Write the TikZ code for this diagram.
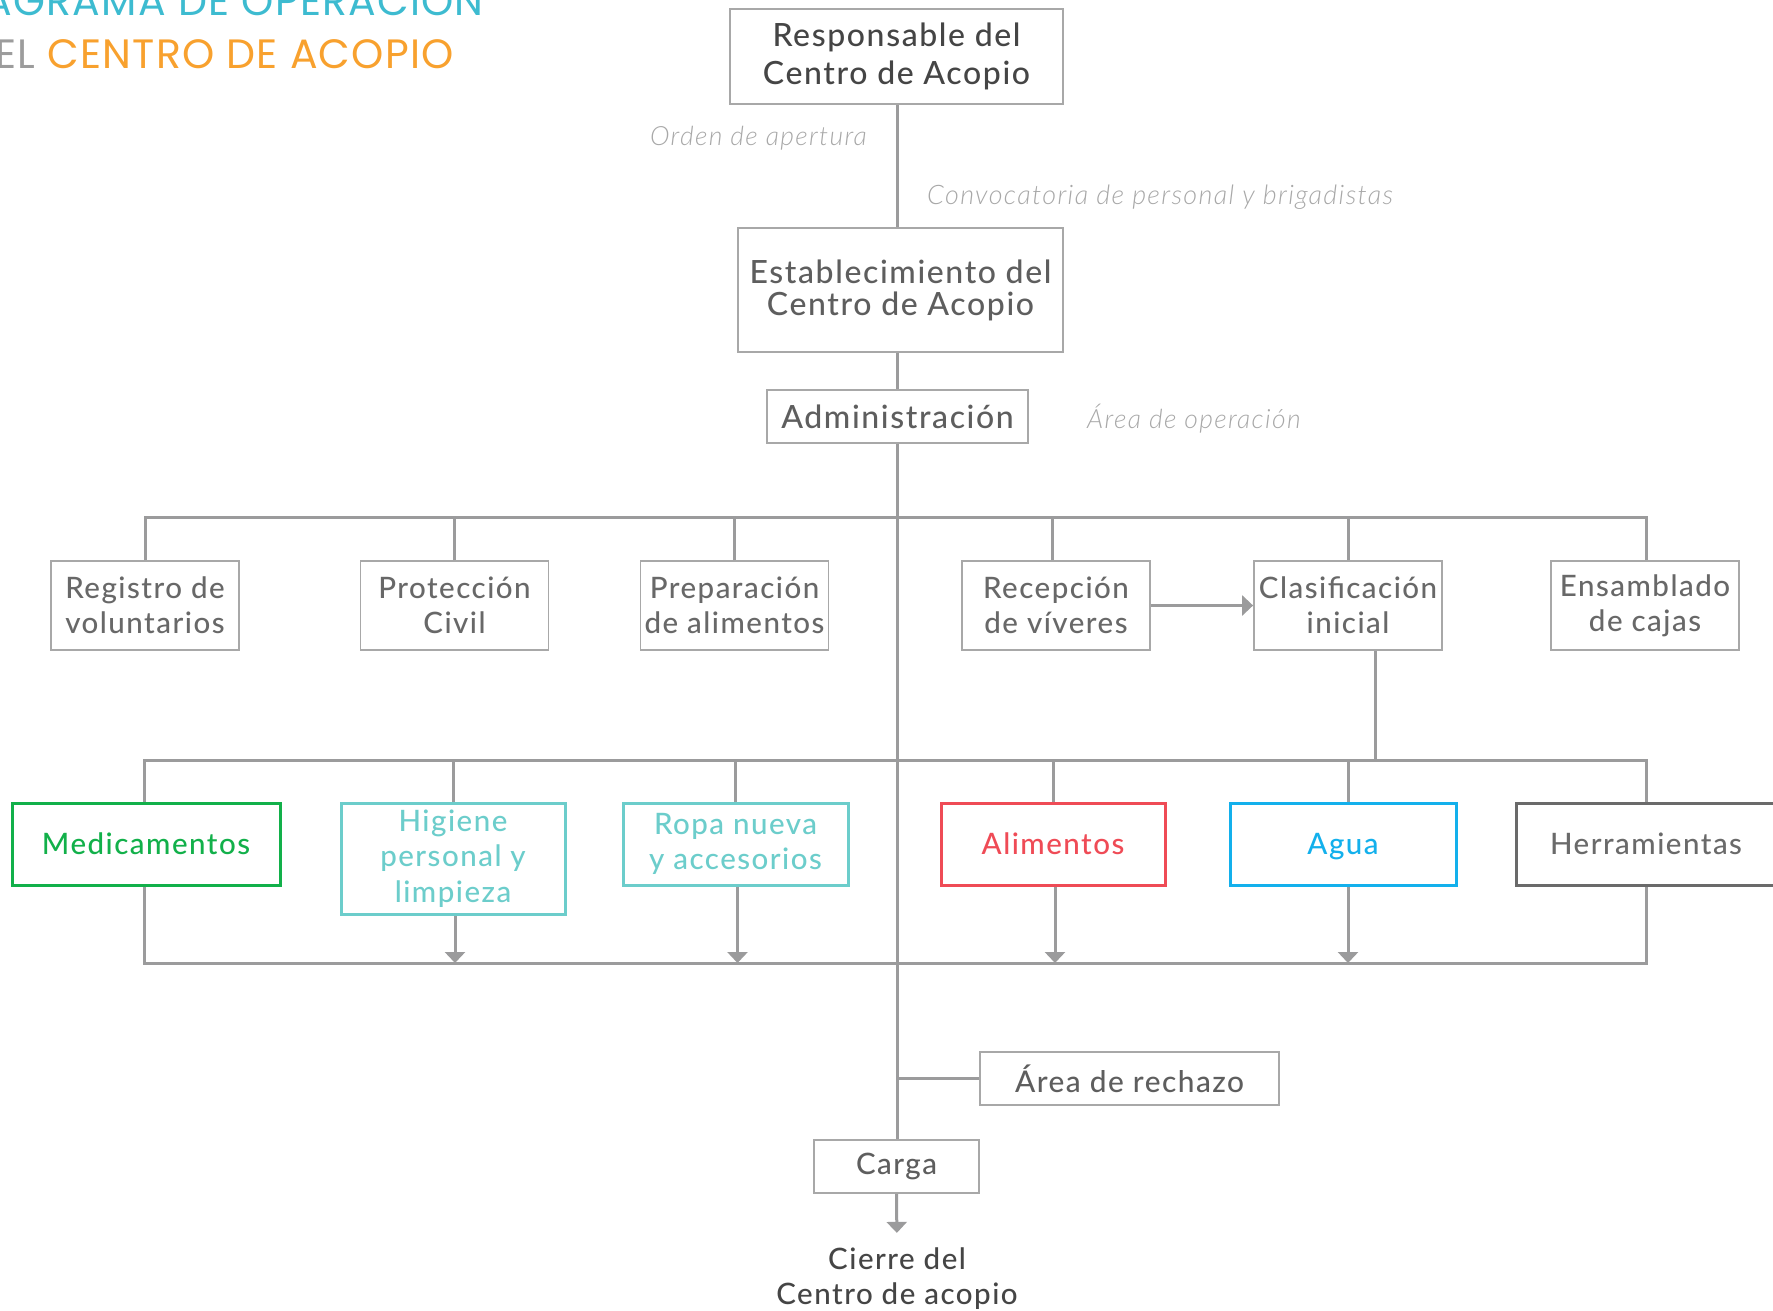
\documentclass[tikz,border=0pt]{standalone}
\usepackage{fontspec}
\IfFontExistsTF{Lato Medium}
  {\setmainfont{Lato Medium}[LetterSpace=5]}
  {\setmainfont{Lato}[LetterSpace=5]}
\IfFontExistsTF{Lato Light}
  {\newfontfamily\labfont{Lato Light}[LetterSpace=5]}
  {\newfontfamily\labfont{Lato}[LetterSpace=5]}
\newfontfamily\titlefont{Poppins}[LetterSpace=3]
\usetikzlibrary{arrows.meta}
\definecolor{linegray}{HTML}{9B9B9C}
\definecolor{boxgray}{HTML}{A8A8A8}
\definecolor{darktxt}{HTML}{454545}
\definecolor{midtxt}{HTML}{5E5E5E}
\definecolor{rowtxt}{HTML}{686868}
\definecolor{labtxt}{HTML}{A8A8A8}
\definecolor{medgreen}{HTML}{12B04A}
\definecolor{teal}{HTML}{6CCDCB}
\definecolor{alired}{HTML}{EF4B56}
\definecolor{aguablue}{HTML}{13B0EC}
\definecolor{herrgray}{HTML}{6A6A6A}
\definecolor{titleteal}{HTML}{3DBBD0}
\definecolor{titleorange}{HTML}{F8A12E}
\definecolor{titlegray}{HTML}{9C9C9C}
\tikzset{
  gbox/.style={draw=boxgray, line width=1.8pt, inner sep=0pt, align=center},
  topbox/.style={gbox, text=midtxt, font=\fontsize{32}{38}\selectfont},
  rowbox/.style={gbox, text=rowtxt, minimum width=188pt, minimum height=89pt, font=\fontsize{29.5}{35}\selectfont},
  cbox/.style={line width=3pt, inner sep=0pt, align=center, minimum height=82pt, font=\fontsize{29.5}{35.5}\selectfont},
  conn/.style={draw=linegray, line width=3pt},
  arr/.style={conn, -{Triangle[width=20pt,length=11pt]}},
  lab/.style={text=labtxt, inner sep=0pt, font=\labfont\itshape\fontsize{26.5}{30}\selectfont},
}
\begin{document}
\begin{tikzpicture}[x=1pt,y=-1pt]
\useasboundingbox (0,0) rectangle (1773,1310);
\clip (0,0) rectangle (1773,1310);
% title
\node[anchor=base east, inner sep=0pt, text=titleteal, font=\titlefont\fontsize{41}{41}\selectfont] (t1) at (484,15) {DIAGRAMA DE OPERACIÓN};
\node[anchor=base east, inner sep=0pt, text=titleorange, font=\titlefont\fontsize{41}{41}\selectfont] (t2) at (454,68) {\textcolor{titlegray}{DEL} CENTRO DE ACOPIO};
% top chain
\node[topbox, text=darktxt, minimum width=333pt, minimum height=95pt] (resp) at (896.5,56.5) {Responsable del\\Centro de Acopio};
\node[topbox, minimum width=325pt, minimum height=124pt, font=\fontsize{32}{32}\selectfont] (est) at (900.5,290) {Establecimiento del\\Centro de Acopio};
\node[topbox, minimum width=261pt, minimum height=53pt] (admin) at (897.5,416.5) {Administración};
\coordinate (spine) at (897,0);
\coordinate (bus1) at (897,517);
\coordinate (bus2) at (897,760);
\coordinate (bus3) at (897,963);
\node[lab, anchor=base east] (orden) at (867,145) {Orden de apertura};
\node[lab, anchor=base west, font=\labfont\itshape\fontsize{26.9}{30}\selectfont] (conv) at (927,204) {Convocatoria de personal y brigadistas};
\node[lab, anchor=base west] (area) at (1087,428) {Área de operación};
% row 1
\node[rowbox] (reg) at (145,605.5) {Registro de\\voluntarios};
\node[rowbox] (prot) at (454.5,605.5) {Protección\\Civil};
\node[rowbox] (prep) at (734.5,605.5) {Preparación\\de alimentos};
\node[rowbox] (rec) at (1056,605.5) {Recepción\\de víveres};
\node[rowbox] (clas) at (1348,605.5) {Clasificación\\inicial};
\node[rowbox] (ens) at (1645,605.5) {Ensamblado\\de cajas};
% row 2
\node[cbox, draw=medgreen, text=medgreen, minimum width=268pt] (med) at (146,844) {Medicamentos};
\node[cbox, draw=teal, text=teal, minimum width=224pt, minimum height=111pt] (hig) at (453,858.5) {Higiene\\personal y\\limpieza};
\node[cbox, draw=teal, text=teal, minimum width=225pt] (ropa) at (735.5,844) {Ropa nueva\\y accesorios};
\node[cbox, draw=alired, text=alired, minimum width=224pt] (alim) at (1053,844) {Alimentos};
\node[cbox, draw=aguablue, text=aguablue, minimum width=226pt, text depth=0pt] (agua) at (1343,844) {Agua};
\node[cbox, draw=herrgray, text=herrgray, minimum width=260pt] (herr) at (1646,844) {Herramientas};
% bottom
\node[gbox, text=midtxt, minimum width=299pt, minimum height=53pt, font=\fontsize{29.8}{35}\selectfont] (rech) at (1129.5,1078.5) {Área de rechazo};
\node[gbox, text=midtxt, minimum width=165pt, minimum height=53pt, font=\fontsize{29.5}{35}\selectfont] (carga) at (896.5,1166.5) {Carga};
\node[inner sep=0pt, align=center, text=darktxt, font=\fontsize{29.5}{35}\selectfont] (cierre) at (897,1279) {Cierre del\\Centro de acopio};
% connectors
\draw[conn] (resp.south -| spine) -- (est.north -| spine);
\draw[conn] (est.south -| spine) -- (admin.north -| spine);
\draw[conn] (admin.south -| spine) -- (carga.north -| spine);
\draw[conn] (reg.north) -- (reg.north |- bus1) -- ([xshift=1.5pt]ens.north |- bus1) -- ([xshift=1.5pt]ens.north);
\foreach \n in {prot,prep,clas} \draw[conn] (\n.north) -- (\n.north |- bus1);
\draw[conn] ([xshift=-4pt]rec.north) -- ([xshift=-4pt]rec.north |- bus1);
\draw[arr] (rec.east) -- (clas.west);
\draw[conn] ([xshift=27pt]clas.south) -- ([xshift=27pt]clas.south |- bus2);
\draw[conn] ([xshift=-2pt]med.north) -- ([xshift=-2pt]med.north |- bus2) -- (herr.north |- bus2) -- (herr.north);
\foreach \n in {hig,ropa,alim} \draw[conn] (\n.north) -- (\n.north |- bus2);
\draw[conn] ([xshift=5pt]agua.north) -- ([xshift=5pt]agua.north |- bus2);
\draw[conn] ([xshift=-2pt]med.south) -- ([xshift=-2pt]med.south |- bus3) -- (herr.south |- bus3) -- (herr.south);
\draw[arr] ([xshift=2pt]hig.south) -- ([xshift=2pt]hig.south |- bus3);
\draw[arr] ([xshift=2pt]ropa.south) -- ([xshift=2pt]ropa.south |- bus3);
\draw[arr] ([xshift=2pt]alim.south) -- ([xshift=2pt]alim.south |- bus3);
\draw[arr] ([xshift=5pt]agua.south) -- ([xshift=5pt]agua.south |- bus3);
\draw[conn] (rech.west) -- (rech.west -| spine);
\draw[arr, shorten >=15pt] (carga.south) -- (cierre.north);
\end{tikzpicture}
\end{document}
